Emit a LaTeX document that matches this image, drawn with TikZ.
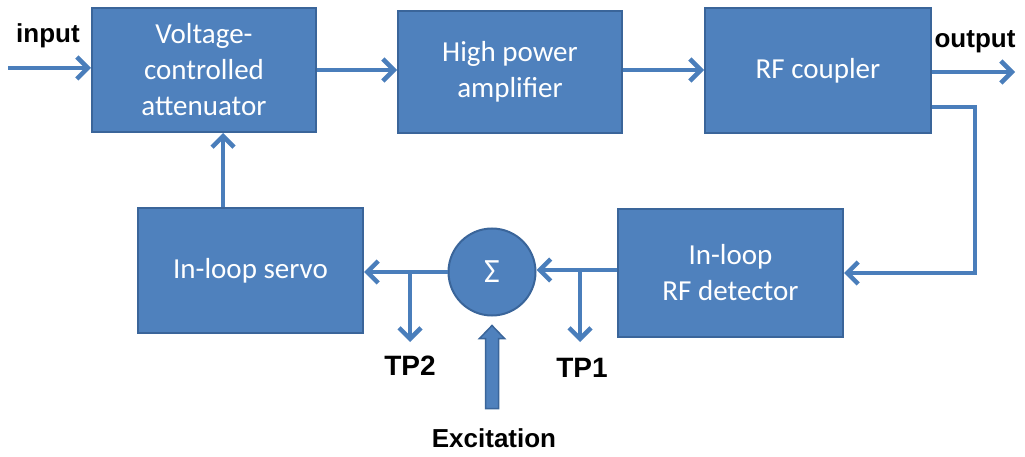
\documentclass[tikz,border=0pt]{standalone}
\usepackage{fontspec}
\setmainfont{Carlito}
\newfontfamily\labfont{Liberation Sans}
\usetikzlibrary{arrows.meta,calc}
\definecolor{boxfill}{HTML}{4F81BD}
\definecolor{boxedge}{HTML}{3A659A}
\definecolor{wire}{HTML}{4A7EBB}
\begin{document}
\begin{tikzpicture}[x=1pt,y=-1pt,
  blk/.style={draw=boxedge,line width=2pt,fill=boxfill,text=white,align=center,
    font=\fontsize{29}{36}\selectfont,inner sep=0pt},
  lab/.style={font=\labfont\bfseries\fontsize{26}{30}\selectfont,text=black,inner sep=0pt},
  wirearr/.style={draw=wire,line width=4.5pt,-{Straight Barb[length=11pt,width=22pt,line width=4.5pt]}},
  wireline/.style={draw=wire,line width=4.5pt}]
\useasboundingbox (0,0) rectangle (1025,457);
\node[blk,minimum width=224pt,minimum height=124pt] (vca) at (204,70) {Voltage-\\controlled\\attenuator};
\node[blk,minimum width=224pt,minimum height=122pt] (hpa) at (510,72) {High power\\amplifier};
\node[blk,minimum width=226pt,minimum height=125pt] (rfc) at (818,70.5) {RF coupler};
\node[blk,minimum width=225pt,minimum height=127pt] (det) at (730.5,273) {In-loop\\RF detector};
\node[blk,minimum width=225pt,minimum height=125pt] (srv) at (250.5,270.5) {In-loop servo};
\node[blk,circle,minimum size=87pt,font=\fontsize{34}{36}\selectfont] (sum) at (492,272) {Σ};
\node[lab] (in) at (48,36) {input};
\node[lab] (out) at (975,42) {output};
\node[lab,font=\labfont\bfseries\fontsize{28}{30}\selectfont] (tp2) at (410,366) {TP2};
\node[lab,font=\labfont\bfseries\fontsize{28}{30}\selectfont] (tp1) at (582,368) {TP1};
\node[lab] (exc) at (494,438) {Excitation};
\coordinate (inL) at (8,68);
\coordinate (outR) at (1015,72);
\coordinate (fbA) at (975,107);
\coordinate (fbB) at (975,273);
\coordinate (tp2top) at (410,272);
\coordinate (tp2bot) at (410,342);
\coordinate (tp1top) at (580,270);
\coordinate (tp1bot) at (580,342);
% connectors
\draw[wirearr] (inL) -- (inL -| vca.west);
\draw[wirearr] (vca.east |- 0,70) -- (hpa.west |- 0,70);
\draw[wirearr] (hpa.east |- 0,70) -- (rfc.west |- 0,70);
\draw[wirearr] (rfc.east |- outR) -- (outR);
\draw[wirearr] (rfc.east |- fbA) -- (fbA) -- (fbB) -- (fbB -| det.east);
\draw[wirearr] (det.west |- 0,270) -- (sum.east |- 0,270);
\draw[wirearr] (sum.west) -- (srv.east |- sum.west);
\draw[wirearr] (srv.north -| 223,0) -- (vca.south -| 223,0);
\draw[wirearr] (tp2top) -- (tp2bot);
\draw[wirearr] (tp1top) -- (tp1bot);
% excitation hollow arrow
\fill[boxfill,draw=boxedge,line width=1.5pt]
  ($(sum.south)+(-6.5,92)$) -- ($(sum.south)+(-6.5,22)$) -- ($(sum.south)+(-12.5,22)$)
  -- ($(sum.south)+(0,9)$) -- ($(sum.south)+(12.5,22)$) -- ($(sum.south)+(6.5,22)$)
  -- ($(sum.south)+(6.5,92)$) -- cycle;
\end{tikzpicture}
\end{document}
